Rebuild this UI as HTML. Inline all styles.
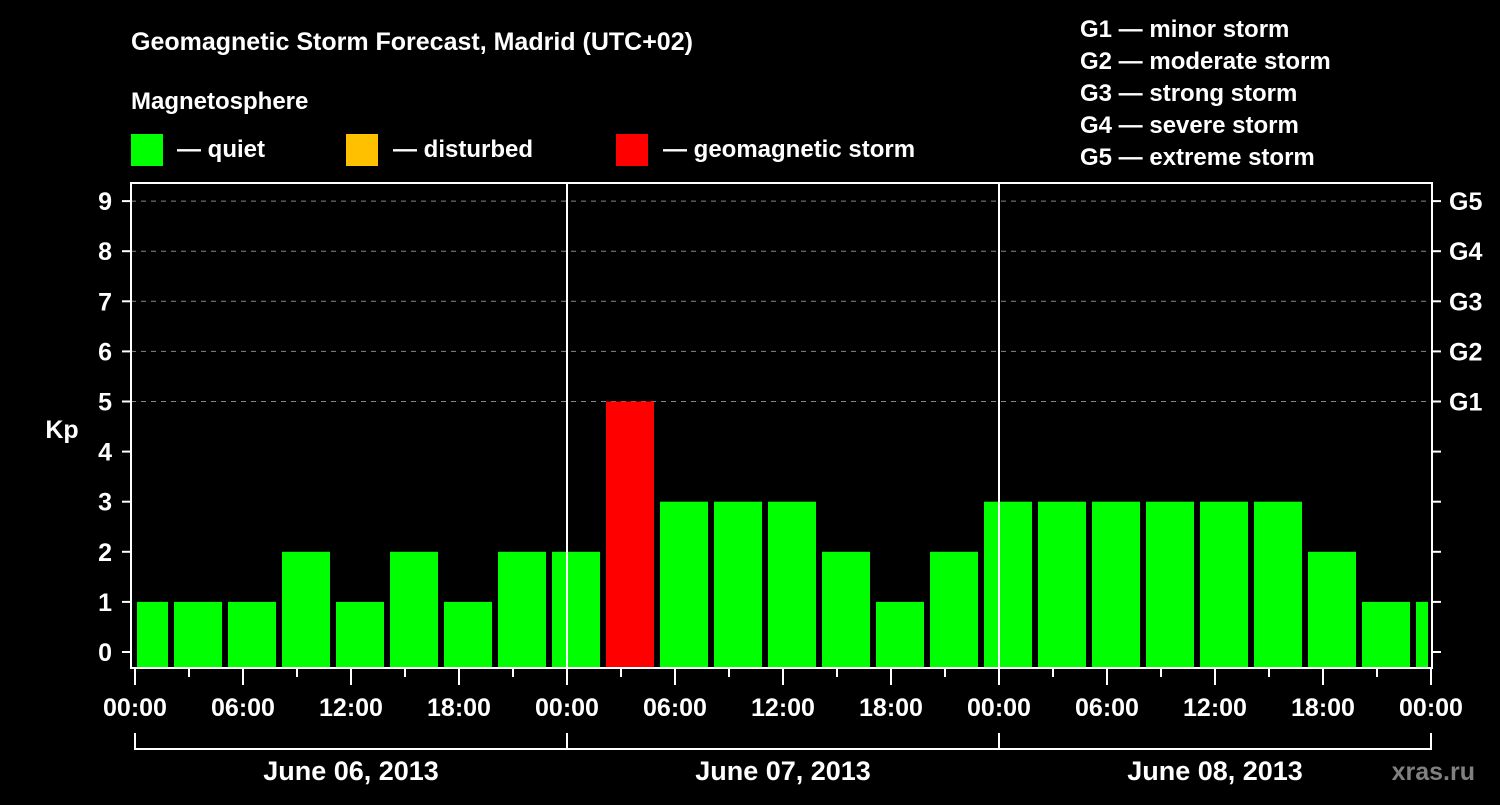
<!DOCTYPE html>
<html><head><meta charset="utf-8"><style>
body{margin:0;background:#000;width:1500px;height:800px;overflow:hidden}
text{font-family:"Liberation Sans",sans-serif;font-weight:bold;fill:#fff}
</style></head><body>
<svg id="c" width="1500" height="800" viewBox="0 0 1500 800">
<text x="131" y="50" font-size="25">Geomagnetic Storm Forecast, Madrid (UTC+02)</text>
<text x="131" y="109" font-size="24">Magnetosphere</text>
<g><rect x="131" y="134" width="32" height="32" fill="#00ff00"/><text x="177" y="157" font-size="24">— quiet</text></g>
<g><rect x="346" y="134" width="32" height="32" fill="#ffc000"/><text x="393" y="157" font-size="24">— disturbed</text></g>
<g><rect x="616" y="134" width="32" height="32" fill="#ff0000"/><text x="663" y="157" font-size="24">— geomagnetic storm</text></g>
<g font-size="24">
<text x="1080" y="37">G1 — minor storm</text>
<text x="1080" y="69">G2 — moderate storm</text>
<text x="1080" y="101">G3 — strong storm</text>
<text x="1080" y="133">G4 — severe storm</text>
<text x="1080" y="165">G5 — extreme storm</text>
</g>
<text x="62" y="438" font-size="25" text-anchor="middle">Kp</text>
<text x="1475" y="780" font-size="25" text-anchor="end" style="fill:#808080">xras.ru</text>
<defs><clipPath id="pc"><rect x="137" y="182" width="1291" height="486"/></clipPath></defs>
<g id="grid"></g><g id="bars" clip-path="url(#pc)"></g><g id="axes"></g>
</svg>
<script>
const values=[1,1,1,2,1,2,1,2,2,5,3,3,3,2,1,2,3,3,3,3,3,3,2,1,1];
const yTicks=[0,1,2,3,4,5,6,7,8,9];
const gLabels=["","","","","","G1","G2","G3","G4","G5"];
const xLabels=["00:00","06:00","12:00","18:00","00:00","06:00","12:00","18:00","00:00","06:00","12:00","18:00","00:00"];
const days=["June 06, 2013","June 07, 2013","June 08, 2013"];
const NS="http://www.w3.org/2000/svg";
const X0=135,PXH=18,Y0=652,PXK=50.1;
const xs=h=>X0+h*PXH, ys=k=>Y0-k*PXK;
function mk(t,a,p,txt){const e=document.createElementNS(NS,t);for(const k in a)e.setAttribute(k,a[k]);if(txt!=null)e.textContent=txt;p.appendChild(e);return e;}
const grid=document.getElementById('grid'),bars=document.getElementById('bars'),axes=document.getElementById('axes');
yTicks.forEach((k,i)=>{
 if(k>=5){const l=mk('line',{x1:131,x2:1432,y1:ys(k),y2:ys(k),stroke:'#888','stroke-dasharray':'5,5','stroke-width':1},grid);
 
 }
 mk('line',{x1:122,x2:131,y1:ys(k),y2:ys(k),stroke:'#fff','stroke-width':2},axes);
 mk('line',{x1:1432,x2:1441,y1:ys(k),y2:ys(k),stroke:'#fff','stroke-width':2},axes);
 const t=mk('text',{x:112,y:ys(k)+9,'font-size':25,'text-anchor':'end'},axes,String(k));
 
 
 if(gLabels[i]){const g=mk('text',{x:1449,y:ys(k)+9,'font-size':25},axes,gLabels[i]);
 
 }
});
values.forEach((v,i)=>{
 const c=v>=5?'#ff0000':(v>=4?'#ffc000':'#00ff00');
 const x=xs(i*3-1)+3;
 const r=mk('rect',{x:x,y:ys(v),width:3*PXH-6,height:668-ys(v),fill:c},bars);
 
 
});
[1,2].forEach(d=>mk('line',{x1:xs(d*24),x2:xs(d*24),y1:182,y2:668,stroke:'#fff','stroke-width':2},axes));
mk('rect',{x:131,y:183,width:1301,height:485,fill:'none',stroke:'#fff','stroke-width':2},axes);
for(let h=0;h<=72;h+=3){const maj=h%6==0;mk('line',{x1:xs(h),x2:xs(h),y1:669,y2:maj?685:677,stroke:'#fff','stroke-width':2},axes);}
xLabels.forEach((s,i)=>{const t=mk('text',{x:xs(i*6),y:716,'font-size':25,'text-anchor':'middle'},axes,s);
 
 });
days.forEach((d,i)=>{
 mk('path',{d:`M${xs(i*24)} 733V749H${xs(i*24+24)}V733`,fill:'none',stroke:'#fff','stroke-width':2},axes);
 const t=mk('text',{x:xs(i*24+12),y:780,'font-size':27,'text-anchor':'middle'},axes,d);
 
 
});
</script>
</body></html>
